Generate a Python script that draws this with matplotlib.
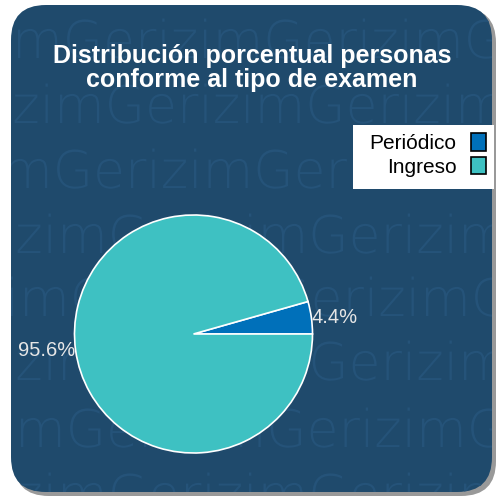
import matplotlib
matplotlib.use("Agg")
import matplotlib.pyplot as plt
from matplotlib.patches import FancyBboxPatch, Patch, PathPatch, Rectangle
from matplotlib.textpath import TextPath
from matplotlib.font_manager import FontProperties
from matplotlib.transforms import Affine2D

categories = ["Periódico", "Ingreso"]
percentages = [4.4, 95.6]
colors = ["#0070BA", "#3EC1C2"]
title = "Distribución porcentual personas\nconforme al tipo de examen"

W = 498
fig = plt.figure(figsize=(4.98, 4.98), dpi=100)
fig.patch.set_facecolor("white")

def px(x, y):
    # pixel coords (top-left origin) -> figure fraction
    return x / W, 1 - y / W

# shadow + rounded panel
x0, y1 = px(14, 8)
x1, y0 = px(496, 496)
shadow = FancyBboxPatch((x0, y0), x1 - x0, y1 - y0,
                        boxstyle="round,pad=0,rounding_size=0.07",
                        transform=fig.transFigure, fc="#555555", ec="none",
                        alpha=0.6, zorder=-3)
fig.patches.append(shadow)
x0, y1 = px(11, 5)
x1, y0 = px(492, 492)
panel = FancyBboxPatch((x0, y0), x1 - x0, y1 - y0,
                       boxstyle="round,pad=0,rounding_size=0.07",
                       transform=fig.transFigure, fc="#1F4A6C", ec="none",
                       zorder=-2)
fig.patches.append(panel)

# watermark rows (drawn as paths so they clip to the rounded panel)
fp = FontProperties(family="DejaVu Sans", weight="light")
unit = TextPath((0, 0), "Gerizim", size=52, prop=fp)
ww = unit.get_extents().width + 6
wm = TextPath((0, 0), "Gerizim" * 5, size=52, prop=fp)
rows = [(58, 55), (123, 97), (188, 45), (253, 100), (316, 62),
        (380, 100), (447, 58), (512, 100)]
for ry, gx in rows:
    start = gx - 2 * ww
    p = PathPatch(wm, transform=Affine2D().translate(start, W - ry),
                  fc="#255379", ec="none", zorder=-1)
    fig.add_artist(p)
    p.set_clip_path(panel)

fig.text(252 / W, 1 - 68 / W, title, ha="center", va="center",
         fontsize=18, fontweight="bold", color="white",
         family="Liberation Sans", linespacing=1.0, zorder=2)

cx, cy, r = 193.5, 334, 119
ax = fig.add_axes([(cx - r) / W, (W - cy - r) / W, 2 * r / W, 2 * r / W])
ax.set_facecolor("none")
labels = ["%.1f%%" % p for p in percentages]
wedges, texts = ax.pie(percentages, colors=colors, labels=labels,
                       labeldistance=1.0, startangle=0, counterclock=True,
                       wedgeprops=dict(edgecolor="white", linewidth=1.2),
                       textprops=dict(color="#E6E6E6", fontsize=14.5,
                                      family="Liberation Sans"))
ax.set_xlim(-1, 1)
ax.set_ylim(-1, 1)
ax.set_aspect("equal")
ax.axis("off")

# legend box (white) drawn separately, legend itself without frame
lx0, ly1 = px(353, 125)
lx1, ly0 = px(494, 189)
fig.add_artist(Rectangle((lx0, ly0), lx1 - lx0, ly1 - ly0,
                         transform=fig.transFigure, fc="white", ec="none",
                         zorder=2.5))
handles = [Patch(facecolor=c, edgecolor="black", linewidth=1.2) for c in colors]
leg = fig.legend(handles, categories, loc="upper right",
                 bbox_to_anchor=(492 / W, 1 - 127 / W), markerfirst=False,
                 frameon=False,
                 prop=dict(family="Liberation Sans", size=15),
                 handlelength=0.7, handleheight=0.95, handletextpad=0.7,
                 labelspacing=0.15, borderpad=0.3, borderaxespad=0)
leg.set_zorder(3)
for t in leg.get_texts():
    t.set_ha("right")

fig.savefig("out.png", dpi=100)
